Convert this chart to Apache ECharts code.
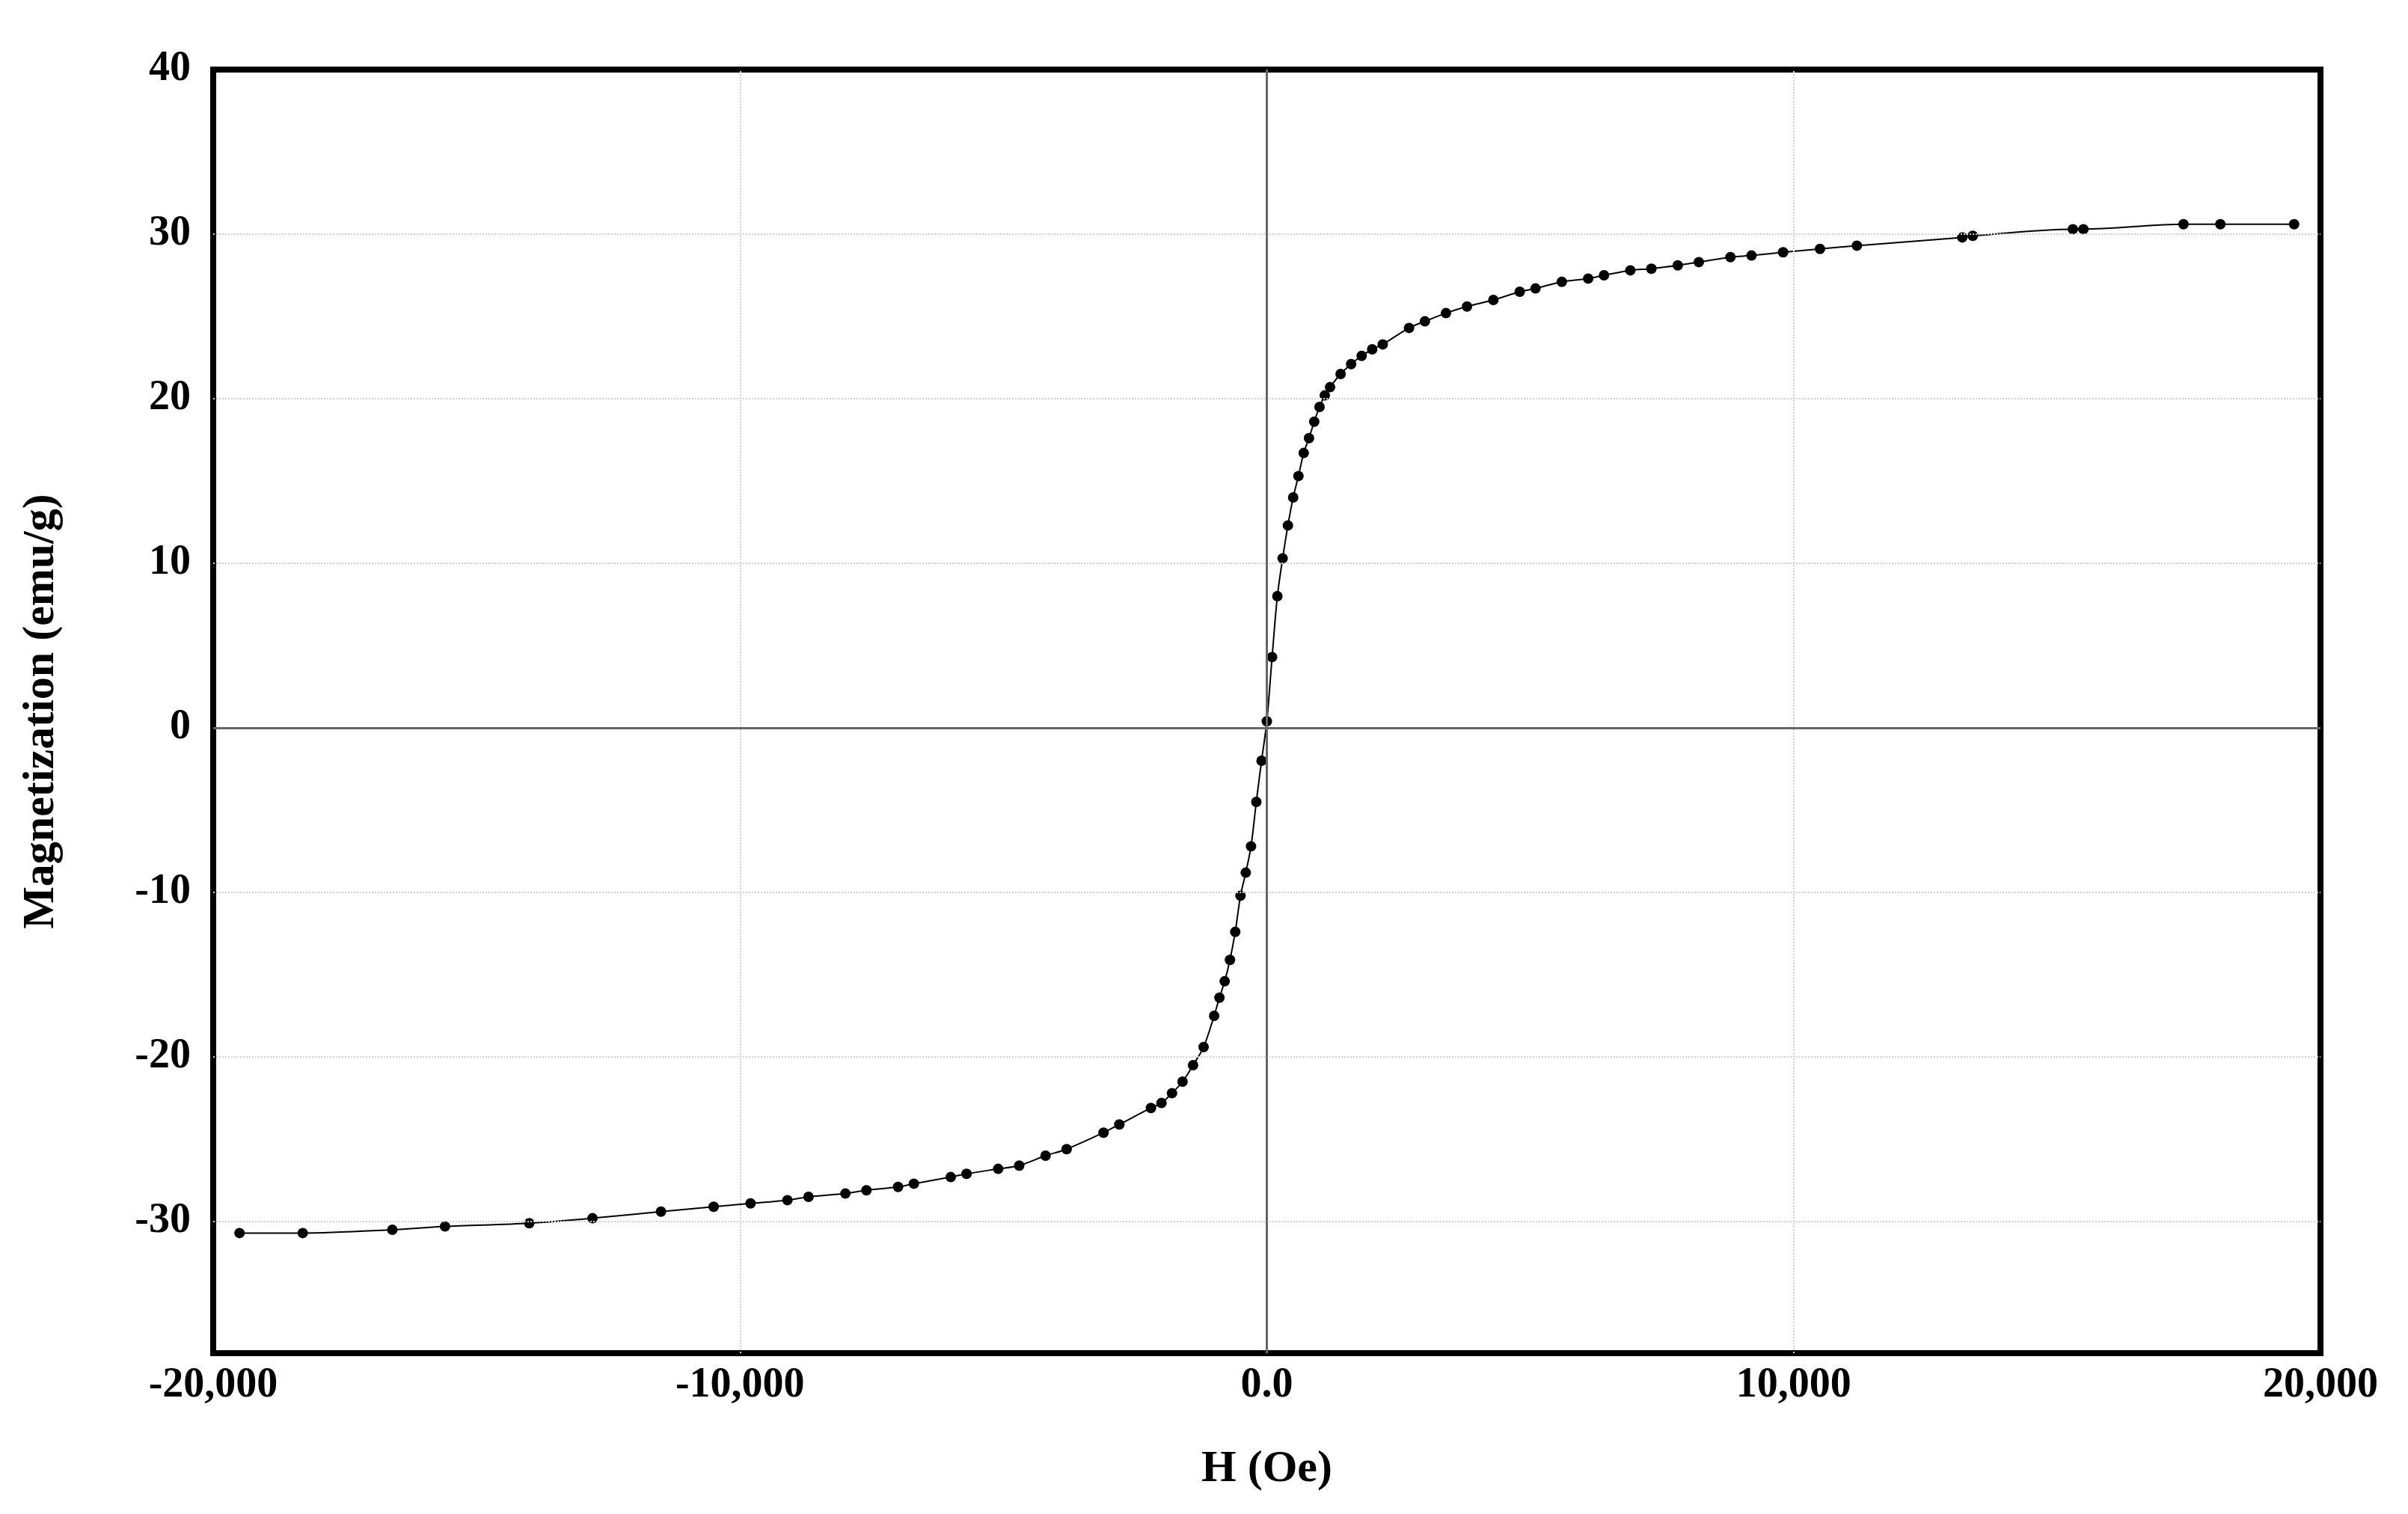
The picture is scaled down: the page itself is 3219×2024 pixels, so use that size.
<!DOCTYPE html>
<html>
<head>
<meta charset="UTF-8"/>
<title>Magnetization</title>
<script src="https://cdn.jsdelivr.net/npm/echarts@6/dist/echarts.min.js"></script>
<style>html,body{margin:0;background:#fff}#chart{width:3219px;height:2024px}</style>
</head>
<body>
<div id="chart"></div>
<script>
// field H (Oe)
var fieldH = [-19500, -18300, -16600, -15600, -14000, -12800, -11500, -10500, -9800, -9100, -8700, -8000, -7600, -7000, -6700, -6000, -5700, -5100, -4700, -4200, -3800, -3100, -2800, -2200, -2000, -1800, -1600, -1400, -1200, -1000, -900, -800, -700, -600, -500, -400, -300, -200, -100,
  0, 100, 200, 300, 400, 500, 600, 700, 800, 900, 1000, 1100, 1200, 1400, 1600, 1800, 2000, 2200, 2700, 3000, 3400, 3800, 4300, 4800, 5100, 5600, 6100, 6400, 6900, 7300, 7800, 8200, 8800, 9200, 9800, 10500, 11200, 13200, 13400, 15300, 15500, 17400, 18100, 19500];
// magnetization (emu/g)
var magnet = [-30.7, -30.7, -30.5, -30.3, -30.1, -29.8, -29.4, -29.1, -28.9, -28.7, -28.5, -28.3, -28.1, -27.9, -27.7, -27.3, -27.1, -26.8, -26.6, -26.0, -25.6, -24.6, -24.1, -23.1, -22.8, -22.2, -21.5, -20.5, -19.4, -17.5, -16.4, -15.4, -14.1, -12.4, -10.2, -8.8, -7.2, -4.5, -2.0,
  0.4, 4.3, 8.0, 10.3, 12.3, 14.0, 15.3, 16.7, 17.6, 18.6, 19.5, 20.2, 20.7, 21.5, 22.1, 22.6, 23.0, 23.3, 24.3, 24.7, 25.2, 25.6, 26.0, 26.5, 26.7, 27.1, 27.3, 27.5, 27.8, 27.9, 28.1, 28.3, 28.6, 28.7, 28.9, 29.1, 29.3, 29.8, 29.9, 30.3, 30.3, 30.6, 30.6, 30.6];
var gridX = [-10000, 10000];
var gridY = [-30, -20, -10, 10, 20, 30];

var font = 'Liberation Serif';
var pts = fieldH.map(function (h, i) { return [h, magnet[i]]; });
var dotted = { color: '#d0d0d0', type: 'dotted', width: 2 };
var lines = gridX.map(function (v) { return { xAxis: v, lineStyle: dotted }; })
  .concat(gridY.map(function (v) { return { yAxis: v, lineStyle: dotted }; }))
  .concat([{ xAxis: 0, lineStyle: { color: '#666', type: 'solid', width: 3 } },
           { yAxis: 0, lineStyle: { color: '#666', type: 'solid', width: 3 } }]);

var myChart = echarts.init(document.getElementById('chart'));
myChart.setOption({
  animation: false,
  grid: { left: 285, right: 117, top: 93, bottom: 215, show: true, borderColor: '#000', borderWidth: 8, backgroundColor: '#fff' },
  xAxis: {
    type: 'value', min: -20000, max: 20000, interval: 10000,
    name: 'H (Oe)', nameLocation: 'middle', nameGap: 125,
    nameTextStyle: { fontFamily: font, fontWeight: 'bold', fontSize: 60, color: '#000' },
    axisLine: { show: false }, axisTick: { show: false }, splitLine: { show: false },
    axisLabel: { fontFamily: font, fontWeight: 'bold', fontSize: 56, color: '#000', margin: 16,
      formatter: function (v) { return v === 0 ? '0.0' : v.toLocaleString('en-US'); } }
  },
  yAxis: {
    type: 'value', min: -38, max: 40, interval: 2,
    name: 'Magnetization (emu/g)', nameLocation: 'middle', nameGap: 200,
    nameTextStyle: { fontFamily: font, fontWeight: 'bold', fontSize: 60, color: '#000' },
    axisLine: { show: false }, axisTick: { show: false }, splitLine: { show: false },
    axisLabel: { fontFamily: font, fontWeight: 'bold', fontSize: 56, color: '#000', margin: 30,
      formatter: function (v) { return v % 10 === 0 ? String(v) : ''; } }
  },
  series: [{
    type: 'line', data: pts, smooth: 0.3,
    symbol: 'circle', symbolSize: 14,
    itemStyle: { color: '#000' }, lineStyle: { color: '#000', width: 2 },
    markLine: { silent: true, symbol: 'none', label: { show: false }, data: lines }
  }]
});
</script>
</body>
</html>
